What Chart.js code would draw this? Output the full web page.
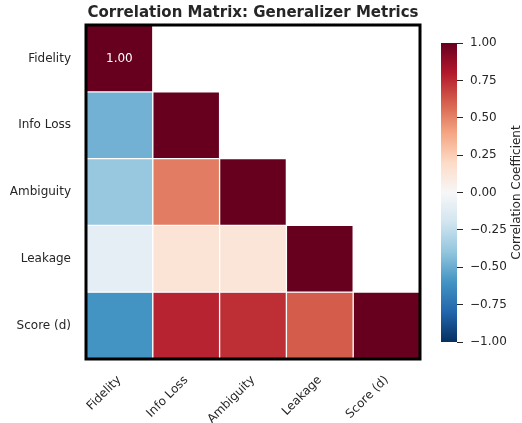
<!DOCTYPE html>
<html>
<head>
<meta charset="utf-8">
<script src="https://cdn.jsdelivr.net/npm/chart.js@4/dist/chart.umd.min.js"></script>
<style>
  html, body { margin: 0; padding: 0; background: #fff; }
  #wrap { position: relative; width: 522px; height: 423px; }
  #heat { position: absolute; left: 0; top: 0; }
  #cbar { position: absolute; left: 430px; top: 0; }
</style>
</head>
<body>
<div id="wrap">
  <canvas id="heat" width="430" height="423"></canvas>
  <canvas id="cbar" width="92" height="423"></canvas>
</div>
<script>
var metrics = ["Fidelity", "Info Loss", "Ambiguity", "Leakage", "Score (d)"];
// lower triangle of the correlation matrix, one array per row
var rowFidelity = [1.00];
var rowInfoLoss = [-0.48, 1.00];
var rowAmbiguity = [-0.38, 0.52, 1.00];
var rowLeakage = [-0.10, 0.14, 0.13, 1.00];
var rowScore = [-0.60, 0.77, 0.74, 0.61, 1.00];
var cbarTicks = [-1, -0.75, -0.5, -0.25, 0, 0.25, 0.5, 0.75, 1];

var rows = [rowFidelity, rowInfoLoss, rowAmbiguity, rowLeakage, rowScore];
var textColor = "#262626";
var fontFamily = "'DejaVu Sans', sans-serif";

// RdBu_r colormap stops
var rdbu = [[5,48,97],[33,102,172],[67,147,195],[146,197,222],[209,229,240],[247,247,247],
            [253,219,199],[244,165,130],[214,96,77],[178,24,43],[103,0,31]];
function cmap(v) {
    var t = (v + 1) / 2 * (rdbu.length - 1);
    var i = Math.max(0, Math.min(rdbu.length - 2, Math.floor(t)));
    var f = t - i;
    var a = rdbu[i], b = rdbu[i + 1];
    var c = a.map(function (x, k) { return Math.round(x + (b[k] - x) * f); });
    return "rgb(" + c.join(",") + ")";
}

var datasets = rows.map(function (row, i) {
    return {
        data: metrics.map(function (m, j) { return j <= i ? [i, i + 1] : null; }),
        backgroundColor: metrics.map(function (m, j) { return j <= i ? cmap(row[j]) : "rgba(0,0,0,0)"; }),
        borderColor: "#ffffff",
        borderWidth: 1,
        borderSkipped: false,
        barPercentage: 1,
        categoryPercentage: 1,
        grouped: false
    };
});

var framePlugin = {
    id: "frame",
    afterDatasetsDraw: function (chart) {
        var ctx = chart.ctx, a = chart.chartArea;
        var x = chart.scales.x, y = chart.scales.y;
        ctx.save();
        // annotation of the first cell
        ctx.fillStyle = "#ffffff";
        ctx.font = "12px " + fontFamily;
        ctx.textAlign = "center";
        ctx.textBaseline = "middle";
        ctx.fillText(rowFidelity[0].toFixed(2), x.getPixelForValue(0), y.getPixelForValue(0.5));
        // title centred over the plot
        ctx.fillStyle = textColor;
        ctx.font = "bold 15px " + fontFamily;
        ctx.fillText("Correlation Matrix: Generalizer Metrics", (a.left + a.right) / 2, 13);
        ctx.strokeStyle = "#000000";
        ctx.lineWidth = 3;
        ctx.strokeRect(a.left, a.top, a.right - a.left, a.bottom - a.top);
        ctx.restore();
    }
};

new Chart(document.getElementById("heat"), {
    type: "bar",
    data: { labels: metrics, datasets: datasets },
    options: {
        responsive: false,
        animation: false,
        layout: { padding: { right: 10, top: 25 } },
        plugins: {
            legend: { display: false },
            tooltip: { enabled: false }
        },
        scales: {
            x: {
                grid: { display: false },
                border: { display: false },
                ticks: {
                    color: textColor,
                    font: { family: fontFamily, size: 12 },
                    minRotation: 45, maxRotation: 45, padding: 6
                },
                afterFit: function (s) { s.height = 64; }
            },
            y: {
                type: "linear",
                min: 0, max: 5, reverse: true,
                grid: { display: false },
                border: { display: false },
                afterBuildTicks: function (s) {
                    s.ticks = [0.5, 1.5, 2.5, 3.5, 4.5].map(function (v) { return { value: v }; });
                },
                ticks: {
                    color: textColor,
                    font: { family: fontFamily, size: 12 },
                    padding: 7,
                    callback: function (v, i) { return metrics[i]; }
                },
                afterFit: function (s) { s.width = 86; }
            }
        }
    },
    plugins: [framePlugin]
});

// colorbar
var cbarTitle = {
    id: "cbarTitle",
    afterDraw: function (chart) {
        var ctx = chart.ctx, a = chart.chartArea;
        ctx.save();
        ctx.translate(87, (a.top + a.bottom) / 2);
        ctx.rotate(-Math.PI / 2);
        ctx.fillStyle = textColor;
        ctx.font = "12px " + fontFamily;
        ctx.textAlign = "center";
        ctx.textBaseline = "middle";
        ctx.fillText("Correlation Coefficient", 0, 0);
        ctx.restore();
    }
};

new Chart(document.getElementById("cbar"), {
    type: "bar",
    data: {
        labels: [""],
        datasets: [{
            data: [[cbarTicks[0], cbarTicks[cbarTicks.length - 1]]],
            barPercentage: 1,
            categoryPercentage: 1,
            borderWidth: 0,
            backgroundColor: function (c) {
                var chart = c.chart, a = chart.chartArea;
                if (!a) return "#ccc";
                var y = chart.scales.y;
                var g = chart.ctx.createLinearGradient(0, y.getPixelForValue(-1), 0, y.getPixelForValue(1));
                rdbu.forEach(function (col, k) {
                    g.addColorStop(k / (rdbu.length - 1), "rgb(" + col.join(",") + ")");
                });
                return g;
            }
        }]
    },
    options: {
        responsive: false,
        animation: false,
        layout: { padding: { left: 11, top: 43, bottom: 81 } },
        plugins: { legend: { display: false }, tooltip: { enabled: false } },
        scales: {
            x: { display: false },
            y: {
                position: "right",
                min: -1, max: 1,
                grid: { drawOnChartArea: false, drawTicks: true, tickLength: 6, color: textColor },
                border: { display: false },
                afterBuildTicks: function (s) {
                    s.ticks = cbarTicks.map(function (v) { return { value: v }; });
                },
                ticks: {
                    color: textColor,
                    font: { family: fontFamily, size: 12 },
                    padding: 7,
                    callback: function (v) { return v.toFixed(2).replace("-", "\u2212"); }
                },
                afterFit: function (s) { s.width = 65; }
            }
        }
    },
    plugins: [cbarTitle]
});
</script>
</body>
</html>
